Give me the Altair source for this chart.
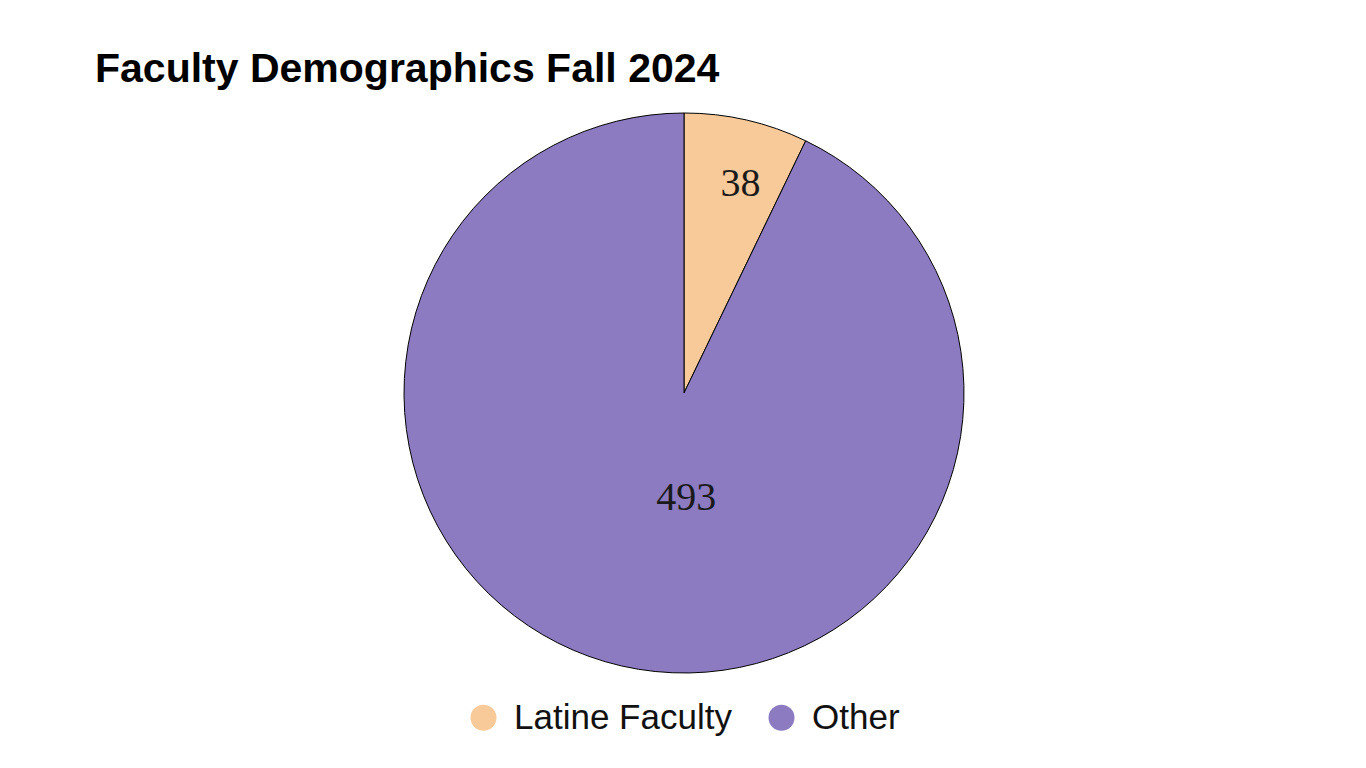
import altair as alt
import pandas as pd

categories = ["Latine Faculty", "Other"]
counts = [38, 493]
order = [0, 1]
colors = ["#F8C999", "#8C7BC1"]

df = pd.DataFrame({"category": categories, "count": counts, "order": order})

pie = alt.Chart(df).mark_arc(outerRadius=280, stroke="#000000", strokeWidth=1).encode(
    theta=alt.Theta("count:Q", stack=True),
    order=alt.Order("order:Q"),
    color=alt.Color(
        "category:N",
        scale=alt.Scale(domain=categories, range=colors),
        sort=categories,
        legend=alt.Legend(
            title=None,
            orient="none",
            direction="horizontal",
            legendX=371,
            legendY=587,
            symbolType="circle",
            symbolSize=676,
            symbolStrokeWidth=0,
            labelFont="Liberation Sans",
            labelFontSize=35,
            labelColor="#111111",
            labelOffset=13,
            labelLimit=0,
            columnPadding=32,
        ),
    ),
)

labels_base = (
    alt.Chart(df)
    .transform_window(cum="sum(count)", sort=[alt.SortField("order")])
    .transform_joinaggregate(total="sum(count)")
    .transform_calculate(mid="(datum.cum - datum.count / 2) / datum.total * 2 * PI")
    .encode(theta=alt.Theta("mid:Q", scale=None), text="count:Q")
)

lab_small = labels_base.mark_text(
    radius=218, font="Liberation Serif", fontSize=40, color="#1a1a1a", dx=8, dy=4
).transform_filter(alt.datum.category == "Latine Faculty")

lab_big = labels_base.mark_text(
    radius=106, font="Liberation Serif", fontSize=40, color="#1a1a1a", dx=26, dy=2
).transform_filter(alt.datum.category == "Other")

chart = (
    alt.layer(pie, lab_small, lab_big)
    .properties(
        width=1178,
        height=560,
        padding={"left": 87, "top": 41, "right": 5, "bottom": 5},
        title=alt.TitleParams(
            "Faculty Demographics Fall 2024",
            anchor="start",
            font="Liberation Sans",
            fontSize=41,
            fontWeight="bold",
            color="#000000",
            offset=20,
        ),
    )
    .configure_view(stroke=None)
    .configure(background="#ffffff")
)

chart.save("out.html", embed_options={"renderer": "svg", "actions": False})
